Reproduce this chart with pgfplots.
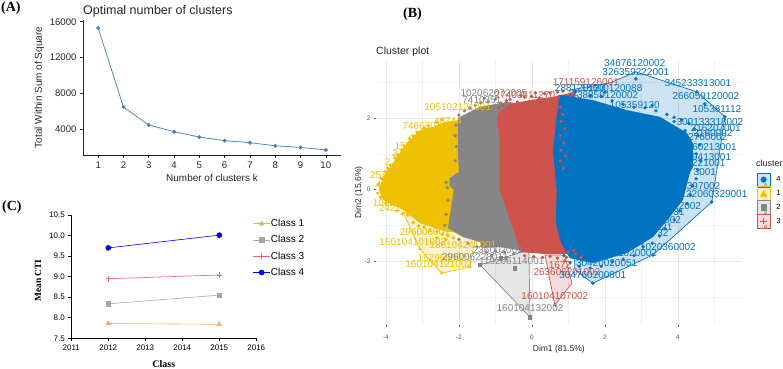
\documentclass[border=0pt]{standalone}
\usepackage{fontspec}
\setmainfont{Liberation Sans}
\newfontfamily\tnr{Liberation Serif}
\usepackage{pgfplots}
\pgfplotsset{compat=1.18}
\definecolor{jb}{HTML}{0073C2}
\definecolor{jy}{HTML}{EFC000}
\definecolor{jg}{HTML}{868686}
\definecolor{jr}{HTML}{CD534C}
\definecolor{txa}{HTML}{262626}
\definecolor{cO}{HTML}{F7A95C}
\definecolor{cG}{HTML}{A6A6A6}
\definecolor{cR}{HTML}{F0606A}
\definecolor{cB}{HTML}{0000EE}
\definecolor{lnA}{HTML}{4A8AC4}
\pgfplotsset{
 lbl/.style={draw=none,mark=none,forget plot,nodes near coords,point meta=explicit symbolic,
   every node near coord/.style={anchor=center,inner sep=0pt,font=\fontsize{10}{10}\selectfont,text=#1}},
 hull/.style={draw=#1,fill=#1,fill opacity=0.2,line width=0.7pt,forget plot},
 blob/.style={draw=none,fill=#1,forget plot},
 km/.style={only marks,forget plot,mark size=1.6pt,mark options={draw=#1,fill=#1},color=#1},
 spk/.style={only marks,forget plot,mark=*,mark size=1.5pt,mark options={draw=none,fill=#1},color=#1},
}
\begin{document}
\begin{tikzpicture}[x=1pt,y=1pt]
\useasboundingbox (0,0) rectangle (783,368);
% ---------- Panel A
\begin{axis}[at={(83pt,213pt)},anchor=south west,scale only axis,width=258pt,height=135pt,
 xmin=0.4,xmax=10.6,ymin=1154,ymax=16200,
 axis lines=left,axis line style={-,color=txa,line width=0.8pt},
 xtick={1,...,10},ytick={4000,8000,12000,16000},scaled y ticks=false,
 tick align=outside,major tick length=3pt,tick style={color=txa,line width=0.6pt},
 /pgf/number format/assume math mode=true,/pgf/number format/set thousands separator={},
 ticklabel style={font=\fontsize{9.6}{10}\selectfont,text=txa},
 xlabel={Number of clusters k},ylabel={Total Within Sum of Square},
 label style={font=\fontsize{10}{10}\selectfont,text=txa},
 xlabel shift=-1pt,ylabel shift=-1pt,
 title={Optimal number of clusters},
 title style={at={(0,1)},anchor=south west,inner sep=0pt,yshift=-3pt,font=\fontsize{12.5}{13}\selectfont,text=txa}]
\addplot[color=lnA,line width=0.8pt,mark=*,mark size=1.6pt,mark options={fill=lnA!85!black}]
 coordinates {(1,15300)(2,6500)(3,4500)(4,3750)(5,3150)(6,2750)(7,2530)(8,2180)(9,2000)(10,1720)};
\end{axis}
% ---------- Panel C
\begin{axis}[at={(71.3pt,29.7pt)},anchor=south west,scale only axis,width=185pt,height=123.3pt,
 xmin=2011,xmax=2016,ymin=7.5,ymax=10.5,
 axis lines=left,axis line style={-,color=black,line width=0.9pt},
 xtick={2011,...,2016},ytick={7.5,8,...,10.5},
 tick align=outside,major tick length=3pt,tick style={color=black,line width=0.7pt},
 /pgf/number format/assume math mode=true,/pgf/number format/set thousands separator={},
 /pgf/number format/.cd,fixed,fixed zerofill,precision=1,/pgfplots/.cd,
 xticklabel style={/pgf/number format/precision=0,/pgf/number format/fixed zerofill=false},
 ticklabel style={font=\fontsize{8}{9}\selectfont,text=black},
 xlabel={\tnr\bfseries Class},ylabel={\tnr\bfseries Mean CTI},
 xlabel style={font=\fontsize{10}{10}\selectfont},ylabel style={font=\fontsize{9.5}{10}\selectfont,yshift=0pt,xshift=-4pt},
 xlabel shift=3pt,ylabel shift=1pt,
 legend style={at={(0.98,0.97)},anchor=north west,draw=none,fill=none,inner sep=0pt,
   font=\fontsize{10}{12}\selectfont,row sep=6.5pt,
   nodes={inner sep=0.5pt},/tikz/every even column/.append style={column sep=7pt}},
 legend cell align=left]
\addplot[color=cO,line width=0.6pt,mark=triangle*,mark size=2.6pt] coordinates {(2012,7.86)(2015,7.84)};
\addlegendentry{Class 1}
\addplot[color=cG,line width=0.6pt,mark=square*,mark size=2.3pt] coordinates {(2012,8.34)(2015,8.55)};
\addlegendentry{Class 2}
\addplot[color=cR,line width=0.6pt,mark=+,mark size=2.8pt,mark options={line width=0.8pt}] coordinates {(2012,8.95)(2015,9.04)};
\addlegendentry{Class 3}
\addplot[color=cB,line width=0.6pt,mark=*,mark size=2.5pt] coordinates {(2012,9.70)(2015,10.01)};
\addlegendentry{Class 4}
\end{axis}
% ---------- Panel B
\begin{axis}[at={(376pt,43pt)},anchor=south west,scale only axis,width=365.7pt,height=265pt,
 xmin=-4.27,xmax=5.75,ymin=-3.79,ymax=3.62,clip=false,
 axis line style={draw=none},
 xtick={-4,-2,0,2,4},ytick={-2,0,2},
 minor xtick={-3,-1,1,3,5},minor ytick={-3,-1,1,3},
 grid=both,major grid style={color=black!9,line width=0.5pt},minor grid style={color=black!6,line width=0.35pt},
 tick align=outside,major tick length=2pt,minor tick length=0pt,tick style={color=black!60,line width=0.5pt},
 xtick pos=bottom,ytick pos=left,
 /pgf/number format/assume math mode=true,
 ticklabel style={font=\fontsize{6.5}{7}\selectfont,text=black!65},
 xticklabel style={yshift=-4pt},
 xlabel={Dim1 (81.5\%)},ylabel={Dim2 (15.6\%)},
 label style={font=\fontsize{8.5}{9}\selectfont,text=txa},
 xlabel shift=-1pt,ylabel shift=-5pt,
 title={Cluster plot},
 title style={at={(0,1)},anchor=south west,inner sep=0pt,yshift=-3pt,font=\fontsize{10.5}{11}\selectfont,text=txa},
 legend style={at={(1.04,0.467)},anchor=west,draw=none,fill=none,inner sep=0pt,
   font=\fontsize{7.5}{8}\selectfont,row sep=-2pt,nodes={inner sep=0.5pt}},
 legend cell align=left]
\addlegendimage{legend image code/.code={\draw[draw=jb,line width=0.8pt,fill=jb,fill opacity=0.2] (0pt,-7pt) rectangle (13.5pt,7pt);\fill[jb] (6.75pt,0.5pt) circle (2.8pt);\node[text=jb!70,font=\fontsize{6}{6}\selectfont,inner sep=0pt] at (6.75pt,-6pt) {a};}}
\addlegendentry{\,\,\,\,4}
\addlegendimage{legend image code/.code={\draw[draw=jy,line width=0.8pt,fill=jy,fill opacity=0.2] (0pt,-7pt) rectangle (13.5pt,7pt);\fill[jy] (3.5pt,-2.5pt)--(10pt,-2.5pt)--(6.75pt,3.5pt)--cycle;\node[text=jy!80,font=\fontsize{6}{6}\selectfont,inner sep=0pt] at (6.75pt,-6pt) {a};}}
\addlegendentry{\,\,\,\,1}
\addlegendimage{legend image code/.code={\draw[draw=jg,line width=0.8pt,fill=jg,fill opacity=0.2] (0pt,-7pt) rectangle (13.5pt,7pt);\fill[jg] (4pt,-2.5pt) rectangle (9.5pt,3pt);\node[text=jg,font=\fontsize{6}{6}\selectfont,inner sep=0pt] at (6.75pt,-6pt) {a};}}
\addlegendentry{\,\,\,\,2}
\addlegendimage{legend image code/.code={\draw[draw=jr,line width=0.8pt,fill=jr,fill opacity=0.2] (0pt,-7pt) rectangle (13.5pt,7pt);\draw[jr,line width=0.5pt] (3.5pt,0.5pt)--(10pt,0.5pt) (6.75pt,-2.5pt)--(6.75pt,3.5pt);\node[text=jr,font=\fontsize{6}{6}\selectfont,inner sep=0pt] at (6.75pt,-6pt) {a};}}
\addlegendentry{\,\,\,\,3}
% hulls
\addplot[hull=jb] coordinates {(2.85,3.29)(4.52,2.73)(5.29,2.03)(5.07,0.55)(4.93,-0.35)(3.32,-1.83)(1.67,-2.62)(1.18,-2.25)(1.04,2.78)(2.14,2.98)} --cycle;
\addplot[hull=jy] coordinates {(-3.53,-0.63)(-3.07,-1.66)(-2.47,-2.34)(-1.70,-2.17)(-1.56,-1.41)} --cycle;
\addplot[hull=jg] coordinates {(-1.42,-2.11)(-0.05,-3.57)(-0.08,-1.69)} --cycle;
\addplot[hull=jr] coordinates {(0.36,-1.83)(0.63,-3.23)(1.10,-2.62)(0.90,-1.83)} --cycle;
% point clouds
\addplot[blob=jy] coordinates {(-1.97,1.94)(-2.38,1.89)(-2.71,1.75)(-3.07,1.66)(-3.42,1.30)(-3.81,0.74)(-4.08,0.35)(-4.19,-0.01)(-4.08,-0.29)(-3.53,-0.57)(-3.07,-0.94)(-2.66,-1.08)(-2.30,-1.19)(-1.6,-1.2)(-1.6,1.9)} --cycle;
\addplot[spk=jy] coordinates {(-2.45,1.95)(-2.6,1.88)(-2.85,1.78)(-2.95,1.72)(-3.15,1.6)(-3.25,1.5)(-3.35,1.42)(-3.5,1.22)(-3.58,1.1)(-3.68,0.98)(-3.75,0.88)(-3.88,0.68)(-3.95,0.6)(-4.02,0.5)(-4.13,0.3)(-4.2,0.15)(-4.22,-0.1)(-4.15,-0.22)(-4.0,-0.38)(-3.85,-0.42)(-3.7,-0.6)(-3.55,-0.68)(-3.4,-0.72)(-3.25,-0.92)(-3.1,-1.02)(-2.95,-1.05)(-2.8,-1.15)(-2.6,-1.18)(-2.45,-1.25)(-2.3,-1.3)(-2.15,-1.35)(-2.35,-1.4)(-2.6,-1.35)};
\addplot[blob=jg] coordinates {(-2.03,2.00)(-1.70,2.17)(-1.42,2.31)(-0.68,2.45)(-0.05,2.36)(-0.05,-1.69)(-0.41,-1.69)(-0.88,-1.61)(-1.37,-1.64)(-1.42,-1.47)(-1.89,-1.33)(-2.30,-1.08)(-2.22,-0.57)(-2.14,-0.01)(-2.25,0.10)(-2.25,0.32)(-2.00,0.49)(-2.03,1.10)} --cycle;
\addplot[spk=jg] coordinates {(-2.0,2.08)(-1.85,2.2)(-1.7,2.28)(-1.55,2.35)(-1.4,2.42)(-1.2,2.45)(-1.0,2.52)(-0.85,2.42)(-1.3,2.55)(-1.1,2.3)(-0.95,2.35)(-2.08,1.8)(-2.1,1.5)(-2.07,1.2)(-2.1,0.8)(-2.35,0.2)(-2.32,0.05)(-2.3,-0.3)(-2.35,-0.7)(-2.38,-1.0)(-2.0,-1.4)(-1.75,-1.5)(-1.5,-1.6)(-1.25,-1.75)(-1.0,-1.72)(-0.75,-1.75)(-0.5,-1.8)(-0.3,-1.72)(-1.1,-1.85)(-0.7,-1.9)};
\addplot[blob=jr] coordinates {(-0.96,2.03)(-0.88,2.17)(-0.60,2.39)(-0.05,2.50)(0.58,2.59)(1.18,2.73)(1.4,-1.8)(0.77,-1.80)(0.30,-1.80)(-0.33,-1.75)(-0.41,-1.41)(-0.60,-0.85)(-0.74,-0.43)(-0.88,-0.01)(-0.88,0.69)(-0.88,1.38)} --cycle;
\addplot[spk=jr] coordinates {(-0.8,2.35)(-0.6,2.52)(-0.4,2.45)(-0.2,2.58)(0,2.6)(0.2,2.55)(0.35,2.68)(0.5,2.7)(0.7,2.72)(-0.9,2.28)(-0.7,2.48)(-0.3,2.62)(0.1,2.7)(0.85,2.75)(-0.2,-1.85)(0.05,-1.88)(0.3,-1.9)(0.5,-1.87)(0.7,-1.92)(0.9,-2.0)};
\addplot[blob=jb] coordinates {(0.77,2.64)(1.67,2.50)(2.60,2.22)(3.51,2.03)(4.25,1.58)(4.41,1.30)(4.41,0.63)(4.33,0.46)(4.14,-0.29)(3.78,-0.77)(3.32,-1.33)(2.60,-1.78)(1.67,-2.06)(1.04,-1.92)(0.90,-1.69)(0.77,-1.41)(0.66,-0.94)(0.68,-0.01)(0.58,1.10)(0.68,2.03)} --cycle;
\addplot[spk=jb] coordinates {(1.2,2.75)(1.6,2.62)(1.9,2.6)(2.2,2.48)(2.5,2.38)(2.8,2.3)(3.1,2.28)(3.4,2.2)(3.7,2.1)(3.9,2.02)(4.1,1.95)(4.3,1.85)(4.45,1.7)(4.55,1.5)(4.6,1.25)(4.5,1.0)(4.62,0.8)(4.55,0.55)(4.5,0.3)(4.4,0.1)(4.35,-0.15)(4.25,-0.4)(4.05,-0.6)(3.9,-0.85)(3.65,-1.1)(3.5,-1.3)(3.3,-1.5)(3.05,-1.6)(2.8,-1.85)(2.5,-1.95)(2.2,-2.02)(1.9,-2.15)(1.6,-2.2)(1.3,-2.15)(1.05,-2.05)(0.88,-1.85)(4.2,1.65)(3.9,1.9)(3.3,2.35)(2.0,2.72)};
% red observations seen among the blue ones
\addplot[spk=jr] coordinates {(0.78,2.3)(0.85,2.1)(0.8,1.9)(0.9,1.7)(0.78,1.5)(0.88,1.3)(0.8,1.1)(0.93,0.95)(0.78,0.8)(0.86,0.6)(0.85,-1.65)(1.0,-1.75)(1.2,-1.8)(1.35,-1.9)(0.95,-1.9)(1.15,-1.7)};
% hull-edge observations
\addplot[km=jb,mark=*] coordinates {(2.85,3.09)(4.52,2.73)(4.74,2.39)(5.29,2.03)(4.93,-0.35)(3.32,-1.83)(1.67,-2.62)};
\addplot[km=jy,mark=triangle*] coordinates {(-3.07,-1.66)(-2.47,-2.34)(-1.70,-2.17)(-1.85,-1.85)};
\addplot[km=jg,mark=square*] coordinates {(-1.42,-2.11)(-0.05,-3.57)(-0.46,-2.20)(-0.85,-1.92)};
\addplot[km=jr,mark=+] coordinates {(0.63,-3.23)};
% labels
\addplot[lbl=jy] coordinates {(-2.03,2.31)[105102121001](-2.30,1.92)[46744](-3.01,1.78)[7466301](-3.21,1.41)[27](-3.53,1.22)[155](-3.75,1.02)[2](-3.95,0.77)[2](-4.05,0.41)[25961](-4.05,0.13)[446](-4.05,-0.38)[1051](-3.89,-0.52)[2421](-2.93,-1.19)[296006001](-3.26,-1.47)[160104101002](-1.89,-1.55)[188104241001](-2.52,-1.92)[15296006](-2.55,-2.08)[160104121002]};
\addplot[lbl=jg] coordinates {(-1.04,2.70)[102062072005](-1.37,2.50)[7410351](-0.05,-3.31)[160104132002](-1.56,-1.89)[296006228011](-0.55,-2.00)[119206114001](-0.93,-1.69)[236002002]};
\addplot[lbl=jr] coordinates {(1.48,3.01)[171159126001](-0.19,2.64)[27403511270](0.96,-2.31)[263606201002](0.63,-2.98)[160104107002](0.77,-2.11)[1672]};
\addplot[lbl=jb] coordinates {(2.82,3.54)[34676120002](2.85,3.29)[326359222001](4.55,2.98)[345233313001](4.77,2.62)[266059120002](5.07,2.25)[105381112](4.88,1.89)[300133318002](5.04,1.72)[216207001](4.96,1.58)[2160002](4.82,1.47)[2760002](4.93,1.19)[160213001](4.85,0.91)[19413001](4.85,0.74)[221001](4.74,0.49)[3001](4.63,0.10)[1397002](4.99,-0.13)[122060329001](4.33,-0.46)[2002](4.03,-0.63)[31](3.78,-0.85)[1002](3.70,-1.05)[21](3.59,-1.22)[32](3.73,-1.61)[1020360002](2.82,-1.78)[21020002](2.05,-2.06)[30420020051](1.67,-2.39)[304760200801](2.00,2.64)[238859120002](2.82,2.36)[105359120](2.19,2.84)[18600120088](1.32,2.84)[288120120](0.99,2.53)[2196]};
\end{axis}
\node[anchor=west,inner sep=0pt,font=\fontsize{9}{9}\selectfont,text=txa] at (756,205) {cluster};
\node[anchor=west,inner sep=0pt,font=\tnr\bfseries\fontsize{14}{14}\selectfont] at (1,359.5) {(A)};
\node[anchor=west,inner sep=0pt,font=\tnr\bfseries\fontsize{14}{14}\selectfont] at (403,354) {(B)};
\node[anchor=west,inner sep=0pt,font=\tnr\bfseries\fontsize{14}{14}\selectfont] at (2,161) {(C)};
\end{tikzpicture}
\end{document}
